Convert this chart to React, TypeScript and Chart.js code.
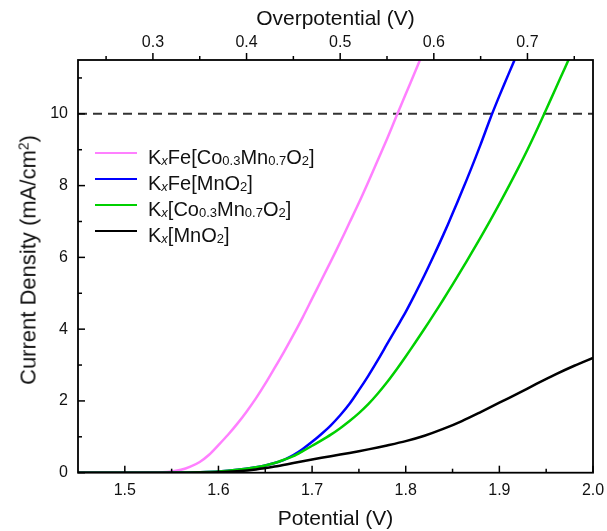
import React, { useEffect, useRef } from "react";
import { Chart, registerables } from "chart.js";

Chart.register(...registerables);

// ---- Data ----
const pinkV = [1.45, 1.5, 1.53, 1.54, 1.55, 1.56, 1.57, 1.58, 1.59, 1.6, 1.61, 1.62, 1.63, 1.64, 1.65, 1.66, 1.67, 1.68, 1.69, 1.7, 1.71, 1.72, 1.73, 1.74, 1.75, 1.76, 1.77, 1.78, 1.79, 1.8, 1.81, 1.816];
const pinkJ = [0, 0, 0.003, 0.01, 0.035, 0.08, 0.17, 0.3, 0.5, 0.77, 1.05, 1.36, 1.7, 2.07, 2.48, 2.92, 3.37, 3.84, 4.33, 4.85, 5.37, 5.89, 6.42, 6.97, 7.52, 8.1, 8.7, 9.3, 9.93, 10.55, 11.17, 11.55];

const blueV = [1.45, 1.52, 1.56, 1.58, 1.6, 1.62, 1.64, 1.65, 1.66, 1.67, 1.68, 1.69, 1.7, 1.71, 1.72, 1.73, 1.74, 1.75, 1.76, 1.77, 1.78, 1.79, 1.8, 1.81, 1.82, 1.83, 1.84, 1.85, 1.86, 1.87, 1.88, 1.89, 1.9, 1.91, 1.917];
const blueJ = [0, 0, 0.005, 0.015, 0.035, 0.08, 0.15, 0.2, 0.27, 0.36, 0.49, 0.66, 0.86, 1.08, 1.32, 1.6, 1.92, 2.3, 2.7, 3.13, 3.58, 4.03, 4.48, 4.98, 5.5, 6.05, 6.62, 7.22, 7.84, 8.48, 9.15, 9.85, 10.5, 11.12, 11.55];

const greenV = [1.45, 1.52, 1.56, 1.58, 1.6, 1.62, 1.64, 1.65, 1.66, 1.67, 1.68, 1.69, 1.7, 1.71, 1.72, 1.73, 1.74, 1.75, 1.76, 1.77, 1.78, 1.79, 1.8, 1.81, 1.82, 1.83, 1.84, 1.85, 1.86, 1.87, 1.88, 1.89, 1.9, 1.91, 1.92, 1.93, 1.94, 1.95, 1.96, 1.97, 1.975];
const greenJ = [0, 0, 0.005, 0.015, 0.035, 0.08, 0.15, 0.2, 0.27, 0.36, 0.46, 0.6, 0.75, 0.9, 1.06, 1.24, 1.44, 1.66, 1.91, 2.2, 2.52, 2.87, 3.24, 3.62, 4.01, 4.41, 4.82, 5.24, 5.67, 6.11, 6.56, 7.02, 7.49, 7.98, 8.48, 9.0, 9.55, 10.12, 10.7, 11.28, 11.57];

const blackV = [1.45, 1.55, 1.58, 1.6, 1.62, 1.64, 1.66, 1.68, 1.7, 1.72, 1.74, 1.76, 1.78, 1.8, 1.82, 1.84, 1.86, 1.88, 1.9, 1.92, 1.94, 1.96, 1.98, 2.0];
const blackJ = [0, 0, 0.003, 0.012, 0.04, 0.09, 0.17, 0.27, 0.37, 0.46, 0.55, 0.65, 0.76, 0.88, 1.03, 1.22, 1.44, 1.69, 1.95, 2.21, 2.48, 2.74, 2.98, 3.2];

const refLineV = [1.45, 2.0];
const refLineJ = [10, 10];

const potentialTicks = [1.5, 1.6, 1.7, 1.8, 1.9, 2.0];
const potentialMinor = [1.55, 1.65, 1.75, 1.85, 1.95];
const currentTicks = [0, 2, 4, 6, 8, 10];
const currentMinor = [1, 3, 5, 7, 9, 11];
const overTicks = [0.3, 0.4, 0.5, 0.6, 0.7];
const overMinor = [0.25, 0.35, 0.45, 0.55, 0.65, 0.75];

const E0 = 1.23;
const X_MIN = 1.45;
const X_MAX = 2.0;
const Y_MIN = 0;
const Y_MAX = 11.5;

const FONT = "'Liberation Sans', Arial, sans-serif";

const legendItems = [
  { color: "#ff80ff", parts: [["K"], ["x", "subi"], ["Fe[Co"], ["0.3", "sub"], ["Mn"], ["0.7", "sub"], ["O"], ["2", "sub"], ["]"]] },
  { color: "#0000ff", parts: [["K"], ["x", "subi"], ["Fe[MnO"], ["2", "sub"], ["]"]] },
  { color: "#00d000", parts: [["K"], ["x", "subi"], ["[Co"], ["0.3", "sub"], ["Mn"], ["0.7", "sub"], ["O"], ["2", "sub"], ["]"]] },
  { color: "#000000", parts: [["K"], ["x", "subi"], ["[MnO"], ["2", "sub"], ["]"]] },
];
const legendY = [153, 179, 205, 231];

const toPts = (v: number[], j: number[]) => v.map((x, i) => ({ x, y: j[i] }));

const frameTicks = {
  id: "frameTicks",
  afterDraw(chart: any) {
    const { ctx, chartArea, scales } = chart;
    const { left, right, top, bottom } = chartArea;
    ctx.save();
    ctx.strokeStyle = "#000";
    ctx.lineWidth = 1.5;
    const seg = (x1: number, y1: number, x2: number, y2: number) => {
      ctx.beginPath();
      ctx.moveTo(x1, y1);
      ctx.lineTo(x2, y2);
      ctx.stroke();
    };
    potentialTicks.forEach((v) => { const x = scales.x.getPixelForValue(v); seg(x, bottom, x, bottom - 7); });
    potentialMinor.forEach((v) => { const x = scales.x.getPixelForValue(v); seg(x, bottom, x, bottom - 4); });
    currentTicks.forEach((v) => { const y = scales.y.getPixelForValue(v); seg(left, y, left + 7, y); });
    currentMinor.forEach((v) => { const y = scales.y.getPixelForValue(v); seg(left, y, left + 4, y); });
    overTicks.forEach((v) => { const x = scales.x2.getPixelForValue(v); seg(x, top, x, top - 7); });
    overMinor.forEach((v) => { const x = scales.x2.getPixelForValue(v); seg(x, top, x, top - 4); });
    ctx.lineWidth = 1.8;
    ctx.strokeRect(left, top, right - left, bottom - top);
    ctx.restore();
  },
};

export default function App() {
  const canvasRef = useRef<HTMLCanvasElement | null>(null);

  useEffect(() => {
    if (!canvasRef.current) return;
    const line = (label: string, v: number[], j: number[], color: string, order: number) => ({
      label,
      data: toPts(v, j),
      borderColor: color,
      backgroundColor: color,
      borderWidth: 2.5,
      pointRadius: 0,
      tension: 0.3,
      order,
    });
    const noPad = (s: any) => {
      s.paddingLeft = 0;
      s.paddingRight = 0;
    };
    const chart = new Chart(canvasRef.current, {
      type: "line",
      data: {
        datasets: [
          {
            label: "10 mA/cm²",
            data: toPts(refLineV, refLineJ),
            borderColor: "#333333",
            borderWidth: 2,
            borderDash: [9, 6],
            pointRadius: 0,
            order: 5,
          },
          line("KxFe[Co0.3Mn0.7O2]", pinkV, pinkJ, "#ff80ff", 4),
          line("KxFe[MnO2]", blueV, blueJ, "#0000ff", 3),
          line("Kx[Co0.3Mn0.7O2]", greenV, greenJ, "#00d000", 2),
          line("Kx[MnO2]", blackV, blackJ, "#000000", 1),
        ],
      },
      options: {
        responsive: false,
        animation: false,
        layout: { padding: { left: 0, right: 14, top: 0, bottom: 0 } },
        plugins: { legend: { display: false }, tooltip: { enabled: false } },
        scales: {
          x: {
            type: "linear",
            position: "bottom",
            min: X_MIN,
            max: X_MAX,
            afterBuildTicks: (s: any) => { s.ticks = potentialTicks.map((value) => ({ value })); },
            afterFit: (s: any) => { s.height = 58.3; noPad(s); },
            grid: { display: false, drawTicks: false },
            border: { display: false },
            ticks: {
              callback: (v: any) => Number(v).toFixed(1),
              font: { family: FONT, size: 16 },
              color: "#111",
              padding: 8,
              maxRotation: 0,
            },
            title: {
              display: true,
              text: "Potential (V)",
              font: { family: FONT, size: 21, lineHeight: 1.1 },
              color: "#111",
              padding: 0,
            },
          },
          x2: {
            type: "linear",
            position: "top",
            min: X_MIN - E0,
            max: X_MAX - E0,
            afterBuildTicks: (s: any) => { s.ticks = overTicks.map((value) => ({ value })); },
            afterFit: (s: any) => { s.height = 60; noPad(s); },
            grid: { display: false, drawTicks: false },
            border: { display: false },
            ticks: {
              callback: (v: any) => Number(v).toFixed(1),
              font: { family: FONT, size: 16 },
              color: "#111",
              padding: 8,
              maxRotation: 0,
            },
            title: {
              display: true,
              text: "Overpotential (V)",
              font: { family: FONT, size: 21, lineHeight: 1.1 },
              color: "#111",
              padding: { top: 8, bottom: 0 },
            },
          },
          y: {
            type: "linear",
            position: "left",
            min: Y_MIN,
            max: Y_MAX,
            afterBuildTicks: (s: any) => { s.ticks = currentTicks.map((value) => ({ value })); },
            afterFit: (s: any) => { s.width = 78; },
            grid: { display: false, drawTicks: false },
            border: { display: false },
            ticks: {
              font: { family: FONT, size: 16 },
              color: "#111",
              padding: 10,
            },
            title: { display: false },
          },
        },
      },
      plugins: [frameTicks],
    });
    return () => chart.destroy();
  }, []);

  return (
    <div style={{ position: "absolute", left: 0, top: 0, width: 607, height: 531, background: "#fff" }}>
      <canvas ref={canvasRef} width={607} height={531} style={{ display: "block" }} />
      <div
        style={{
          position: "absolute",
          left: 25.5,
          top: 260,
          transform: "translate(-50%, -50%) rotate(-90deg)",
          fontFamily: FONT,
          fontSize: 22,
          lineHeight: "22px",
          color: "#111",
          whiteSpace: "nowrap",
        }}
      >
        Current Density (mA/cm<span style={{ fontSize: 14, verticalAlign: "7px" }}>2</span>)
      </div>
      {legendItems.map((item, i) => (
        <React.Fragment key={i}>
          <div
            style={{
              position: "absolute",
              left: 95,
              top: legendY[i] - 1.25,
              width: 42,
              height: 2.5,
              background: item.color,
            }}
          />
          <div
            style={{
              position: "absolute",
              left: 148,
              top: legendY[i] - 8.5,
              fontFamily: FONT,
              fontSize: 20,
              lineHeight: "24px",
              color: "#111",
              whiteSpace: "nowrap",
            }}
          >
            {item.parts.map((p, k) =>
              p[1] ? (
                <span
                  key={k}
                  style={{
                    fontSize: 13,
                    verticalAlign: "-1px",
                    fontStyle: p[1] === "subi" ? "italic" : "normal",
                  }}
                >
                  {p[0]}
                </span>
              ) : (
                <span key={k}>{p[0]}</span>
              )
            )}
          </div>
        </React.Fragment>
      ))}
    </div>
  );
}
